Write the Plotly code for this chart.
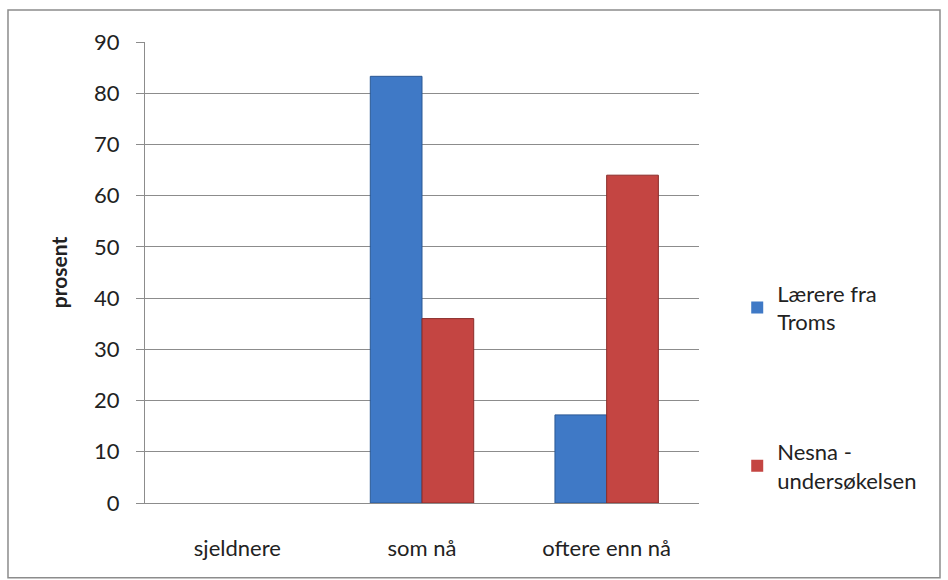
import plotly.graph_objects as go

categories = ["sjeldnere", "som nå", "oftere enn nå"]
troms_values = [0, 83.3, 17.2]
nesna_values = [0, 36, 64]
series_names = ["Lærere fra<br>Troms", "Nesna -<br>undersøkelsen"]
y_ticks = [0, 10, 20, 30, 40, 50, 60, 70, 80, 90]

FONT = "Lato, Calibri, 'Open Sans', sans-serif"
FS = 22


def edge_widths(values):
    # no outline on empty bars, so a zero value leaves no stub on the axis
    return [1 if v > 0 else 0 for v in values]


fig = go.Figure()
fig.add_trace(go.Bar(
    x=categories, y=troms_values, name=series_names[0], legendgroup="a",
    marker=dict(color="#3f79c6",
                line=dict(color="#2b5894", width=edge_widths(troms_values))),
))
fig.add_trace(go.Bar(
    x=categories, y=nesna_values, name=series_names[1], legendgroup="b",
    marker=dict(color="#c44542",
                line=dict(color="#8a2c29", width=edge_widths(nesna_values))),
))

fig.update_layout(
    width=948, height=580,
    margin=dict(l=145, r=249, t=42, b=77),
    paper_bgcolor="white", plot_bgcolor="white",
    barmode="group", bargap=0.44, bargroupgap=0,
    font=dict(family=FONT, size=FS, color="#222"),
    showlegend=True,
    legend=dict(
        x=1.069, y=0.5, xanchor="left", yanchor="top",
        traceorder="grouped", tracegroupgap=98,
        font=dict(family=FONT, size=FS, color="#222"),
        itemwidth=30,
    ),
    xaxis=dict(
        showline=True, linecolor="#8c8c8c", linewidth=1,
        ticks="", tickfont=dict(size=FS), showgrid=False,
        ticklabelstandoff=26,
    ),
    yaxis=dict(
        range=[0, 90], tickvals=y_ticks, ticks="outside", ticklen=8,
        tickcolor="#8c8c8c", showline=True, linecolor="#8c8c8c", linewidth=1,
        showgrid=True, gridcolor="#8c8c8c", gridwidth=1,
        zeroline=False, ticklabelstandoff=12, tickfont=dict(size=FS),
        title=dict(text="<b>prosent</b>", font=dict(size=21), standoff=20),
    ),
    shapes=[dict(
        type="rect", xref="paper", yref="paper",
        x0=-0.2473, x1=1.435, y0=-0.162, y1=1.0694,
        line=dict(color="#8c8c8c", width=1.5), fillcolor="rgba(0,0,0,0)",
        layer="below",
    )],
)

fig.write_html("out.html")
